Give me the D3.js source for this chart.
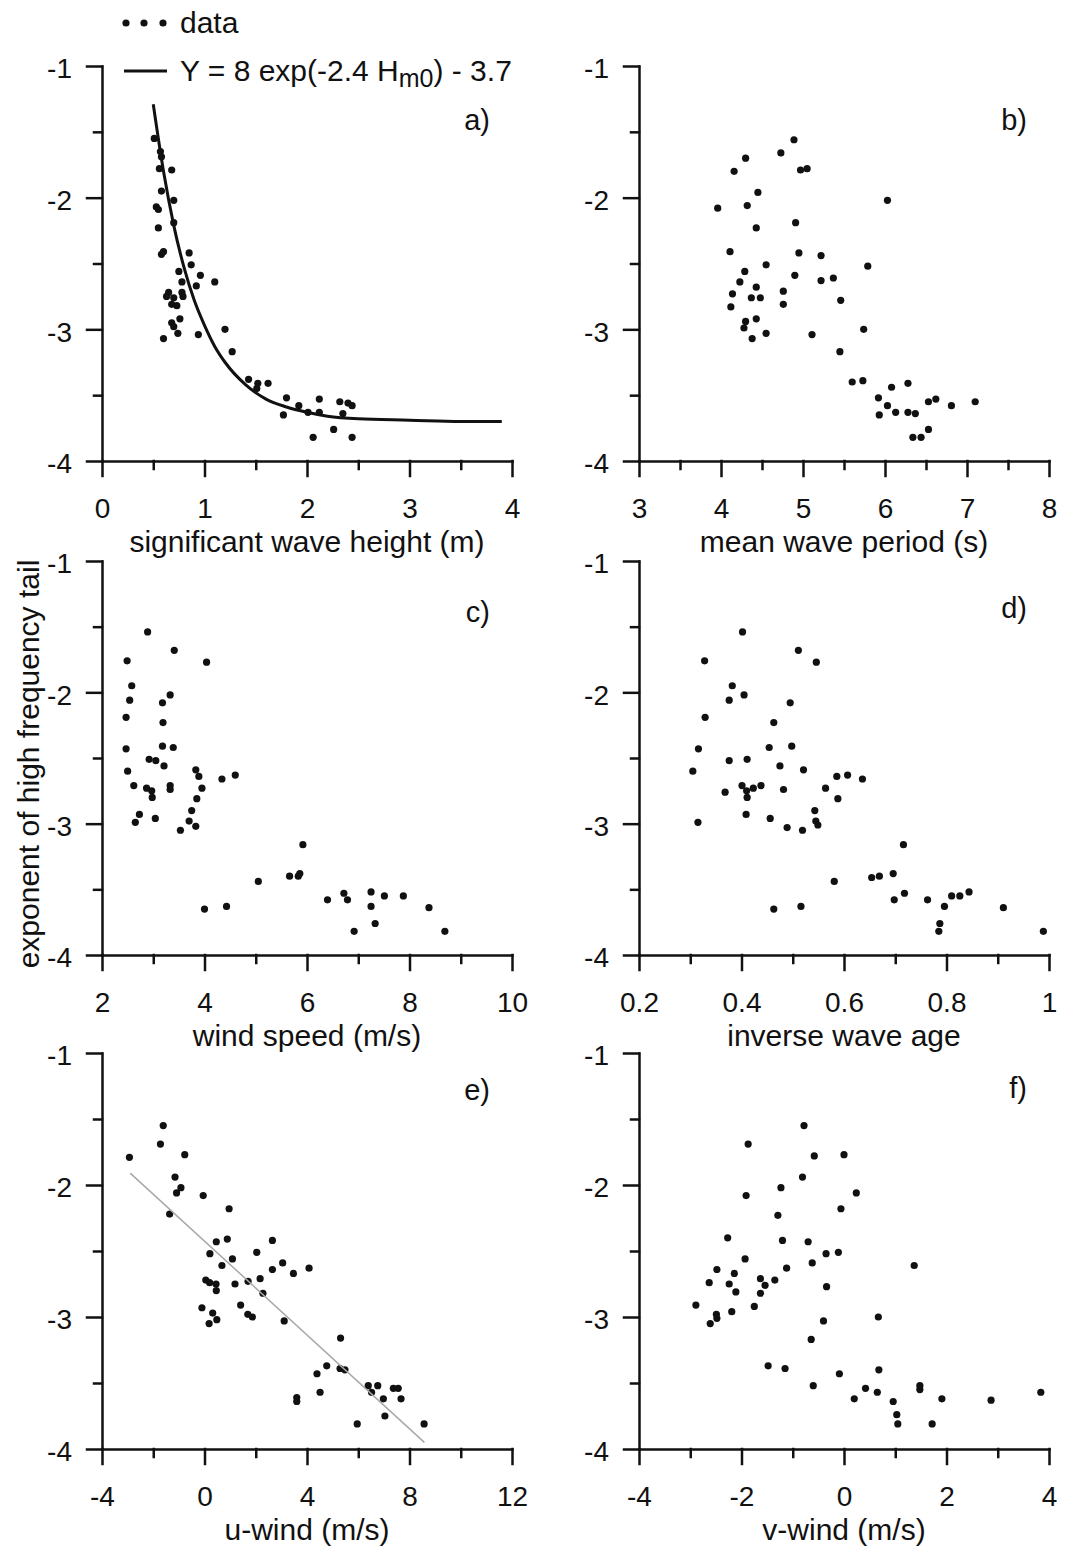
<!DOCTYPE html>
<html>
<head>
<meta charset="utf-8">
<script src="https://cdn.jsdelivr.net/npm/d3@7"></script>
<style>
body { margin: 0; background: #fff; }
svg text { font-family: 'Liberation Sans', Arial, sans-serif; fill: #111; }
.axis path, .axis line { stroke: #111; stroke-width: 2.5px; stroke-linecap: square; }
.axis text { font-size: 28px; fill: #111; }
.title { font-size: 30px; }
.tag { font-size: 29px; }
</style>
</head>
<body>
<svg id="chart" width="1080" height="1551"></svg>
<script>
'use strict';
const hm0 = [0.51,0.57,0.58,0.56,0.68,0.58,0.70,0.53,0.55,0.70,0.55,0.60,0.58,0.85,0.87,0.75,0.96,0.92,0.78,1.10,0.65,0.63,0.70,0.78,0.79,0.68,0.73,0.76,0.68,0.70,0.74,0.60,0.94,1.20,1.27,1.43,1.52,1.51,1.62,1.80,1.77,1.92,2.01,2.12,2.12,2.32,2.40,2.44,2.35,2.26,2.06,2.44];
const tailA = [-1.55,-1.65,-1.69,-1.78,-1.79,-1.95,-2.02,-2.07,-2.09,-2.19,-2.23,-2.41,-2.43,-2.42,-2.51,-2.56,-2.59,-2.67,-2.64,-2.64,-2.72,-2.75,-2.76,-2.72,-2.75,-2.81,-2.82,-2.92,-2.95,-2.98,-3.03,-3.07,-3.04,-3.00,-3.17,-3.38,-3.41,-3.45,-3.41,-3.52,-3.65,-3.58,-3.63,-3.53,-3.63,-3.55,-3.56,-3.58,-3.64,-3.76,-3.82,-3.82];

const period = [4.89,4.73,4.30,4.16,4.97,5.05,4.45,6.03,3.96,4.32,4.91,4.43,4.11,4.95,5.22,4.55,5.79,4.29,4.90,5.22,5.37,4.23,4.43,4.14,4.76,4.37,4.48,5.46,4.12,4.76,4.30,4.28,4.43,4.55,4.38,5.11,5.74,5.45,5.60,5.73,5.92,6.08,6.28,5.93,6.03,6.13,6.28,6.37,6.53,6.62,6.81,7.10,6.53,6.34,6.44];
const tailB = [-1.56,-1.66,-1.70,-1.80,-1.79,-1.78,-1.96,-2.02,-2.08,-2.06,-2.19,-2.23,-2.41,-2.42,-2.44,-2.51,-2.52,-2.56,-2.59,-2.63,-2.61,-2.64,-2.68,-2.73,-2.71,-2.76,-2.76,-2.78,-2.83,-2.81,-2.94,-2.99,-2.92,-3.03,-3.07,-3.04,-3.00,-3.17,-3.40,-3.39,-3.52,-3.44,-3.41,-3.65,-3.58,-3.63,-3.63,-3.64,-3.55,-3.53,-3.58,-3.55,-3.76,-3.82,-3.82];

const windSpeed = [2.89,3.41,2.49,4.04,2.58,3.33,2.54,3.18,2.47,3.19,3.18,3.39,2.47,2.92,3.05,3.21,3.83,2.50,3.89,4.34,4.60,2.62,2.87,3.33,2.97,2.98,3.33,3.95,3.85,3.75,2.73,2.65,3.04,3.70,3.83,3.53,5.92,5.66,5.83,5.86,5.05,4.00,4.43,6.40,6.72,6.79,7.25,7.51,7.88,7.25,8.38,7.33,6.92,8.69];
const tailC = [-1.54,-1.68,-1.76,-1.77,-1.95,-2.02,-2.06,-2.08,-2.19,-2.23,-2.41,-2.42,-2.43,-2.51,-2.52,-2.56,-2.59,-2.60,-2.64,-2.66,-2.63,-2.71,-2.73,-2.71,-2.75,-2.80,-2.74,-2.73,-2.81,-2.90,-2.93,-2.99,-2.96,-2.98,-3.02,-3.05,-3.16,-3.40,-3.40,-3.38,-3.44,-3.65,-3.63,-3.58,-3.53,-3.58,-3.52,-3.55,-3.55,-3.63,-3.64,-3.76,-3.82,-3.82];

const waveAge = [0.402,0.511,0.328,0.546,0.382,0.405,0.376,0.495,0.329,0.463,0.316,0.454,0.498,0.376,0.411,0.475,0.521,0.305,0.586,0.607,0.636,0.401,0.423,0.438,0.368,0.410,0.411,0.482,0.564,0.588,0.315,0.409,0.456,0.489,0.519,0.543,0.545,0.549,0.716,0.654,0.669,0.696,0.581,0.463,0.516,0.698,0.718,0.763,0.810,0.826,0.844,0.796,0.911,0.787,0.785,0.989];
const tailD = [-1.54,-1.68,-1.76,-1.77,-1.95,-2.02,-2.06,-2.08,-2.19,-2.23,-2.43,-2.42,-2.41,-2.52,-2.51,-2.56,-2.59,-2.60,-2.64,-2.63,-2.66,-2.71,-2.73,-2.71,-2.76,-2.75,-2.80,-2.74,-2.73,-2.81,-2.99,-2.93,-2.96,-3.03,-3.05,-2.90,-2.98,-3.01,-3.16,-3.41,-3.40,-3.38,-3.44,-3.65,-3.63,-3.58,-3.53,-3.58,-3.55,-3.55,-3.52,-3.63,-3.64,-3.76,-3.82,-3.82];

const uWind = [-1.61,-1.72,-2.93,-0.77,-1.15,-0.92,-1.09,-0.05,-1.36,0.96,0.46,0.89,2.65,0.21,2.04,1.09,0.68,3.05,2.65,3.47,4.08,0.05,0.20,0.45,1.19,1.70,2.17,0.46,2.28,-0.10,1.41,1.69,1.87,0.32,0.48,0.18,3.11,5.31,4.77,4.39,5.29,5.48,4.51,3.60,3.60,6.39,6.76,6.52,7.37,7.56,6.98,7.67,7.04,5.96,8.57];
const tailE = [-1.55,-1.69,-1.79,-1.77,-1.94,-2.02,-2.06,-2.08,-2.22,-2.18,-2.43,-2.41,-2.42,-2.52,-2.51,-2.56,-2.61,-2.59,-2.64,-2.67,-2.63,-2.72,-2.74,-2.75,-2.75,-2.73,-2.71,-2.80,-2.82,-2.93,-2.91,-2.98,-3.00,-2.97,-3.02,-3.05,-3.03,-3.16,-3.37,-3.43,-3.39,-3.40,-3.57,-3.61,-3.64,-3.52,-3.52,-3.57,-3.54,-3.54,-3.62,-3.62,-3.75,-3.81,-3.81];

const vWind = [-0.78,-1.87,-0.58,0.00,-0.81,-1.23,-1.91,0.24,-0.06,-1.29,-2.27,-1.20,-0.70,-1.93,-0.35,-0.11,-0.62,1.37,-2.48,-1.12,-2.14,-2.63,-2.24,-1.63,-1.35,-1.54,-0.34,-2.11,-1.63,-2.89,-2.61,-2.49,-2.48,-2.19,-1.75,-0.40,0.67,-0.64,-1.48,-1.15,-0.09,0.68,-0.60,0.42,0.65,1.48,1.48,0.20,0.96,1.91,2.87,3.84,1.03,1.05,1.72];
const tailF = [-1.55,-1.69,-1.78,-1.77,-1.94,-2.02,-2.08,-2.06,-2.18,-2.23,-2.40,-2.42,-2.43,-2.56,-2.52,-2.51,-2.59,-2.61,-2.64,-2.63,-2.67,-2.74,-2.75,-2.71,-2.72,-2.76,-2.77,-2.81,-2.82,-2.91,-3.05,-2.98,-3.01,-2.96,-2.92,-3.03,-3.00,-3.17,-3.37,-3.39,-3.43,-3.40,-3.52,-3.54,-3.57,-3.52,-3.55,-3.62,-3.64,-3.62,-3.63,-3.57,-3.74,-3.81,-3.81];

//Fitted curve in panel a).
const fitH = [0.5,0.6,0.7,0.8,0.9,1.0,1.1,1.2,1.4,1.6,1.8,2.0,2.2,2.5,3.0,3.5,3.9];
const fitY = [-1.29,-1.80,-2.21,-2.53,-2.78,-2.97,-3.13,-3.25,-3.42,-3.53,-3.59,-3.63,-3.66,-3.68,-3.69,-3.70,-3.70];
//Grey trend line in panel e), its two ends.
const trendU = [-2.9, 8.58];
const trendY = [-1.91, -3.95];

//Axis ticks.
const yMajor = [-1, -2, -3, -4];
const yMinor = [-1.5, -2.5, -3.5];
const ticksA = [0, 1, 2, 3, 4];
const ticksB = [3, 4, 5, 6, 7, 8];
const ticksC = [2, 4, 6, 8, 10];
const ticksD = [0.2, 0.4, 0.6, 0.8, 1];
const ticksE = [-4, 0, 4, 8, 12];
const ticksF = [-4, -2, 0, 2, 4];

const svg = d3.select('#chart');
//Pixel frame of each column and row.
const colX = [[102, 512], [639, 1049]];
const rowY = [[66, 461], [561, 955], [1053, 1449]];

const panels = [
	{xs: hm0, ys: tailA, ticks: ticksA, title: 'significant wave height (m)', tag: 'a)', col: 0, row: 0, tagY: 130},
	{xs: period, ys: tailB, ticks: ticksB, title: 'mean wave period (s)', tag: 'b)', col: 1, row: 0, tagY: 130},
	{xs: windSpeed, ys: tailC, ticks: ticksC, title: 'wind speed (m/s)', tag: 'c)', col: 0, row: 1, tagY: 622},
	{xs: waveAge, ys: tailD, ticks: ticksD, title: 'inverse wave age', tag: 'd)', col: 1, row: 1, tagY: 618},
	{xs: uWind, ys: tailE, ticks: ticksE, title: 'u-wind (m/s)', tag: 'e)', col: 0, row: 2, tagY: 1100},
	{xs: vWind, ys: tailF, ticks: ticksF, title: 'v-wind (m/s)', tag: 'f)', col: 1, row: 2, tagY: 1098}
];

//Minor ticks sit half way between the labelled ones.
function halves(t) {
	return t.slice(1).map((d, i) => (d + t[i]) / 2);
}

const scales = [];
panels.forEach(p => {
	const g = svg.append('g');
	const x = d3.scaleLinear()
		.domain([p.ticks[0], p.ticks[p.ticks.length - 1]])
		.range(colX[p.col]);
	const y = d3.scaleLinear()
		.domain([-4, -1])
		.range([rowY[p.row][1], rowY[p.row][0]]);
	scales.push({x: x, y: y, g: g});

	//Minor ticks first, without domain lines.
	g.append('g')
		.attr('class', 'axis')
		.attr('transform', `translate(0,${y(-4)})`)
		.call(d3.axisBottom(x).tickValues(halves(p.ticks)).tickSize(8).tickFormat(''))
		.call(s => s.select('.domain').remove());
	g.append('g')
		.attr('class', 'axis')
		.attr('transform', `translate(${x.range()[0]},0)`)
		.call(d3.axisLeft(y).tickValues(yMinor).tickSize(8).tickFormat(''))
		.call(s => s.select('.domain').remove());

	//Labelled axes.
	g.append('g')
		.attr('class', 'axis')
		.attr('transform', `translate(0,${y(-4)})`)
		.call(d3.axisBottom(x).tickValues(p.ticks).tickSize(15).tickSizeOuter(0)
			.tickPadding(22).tickFormat(d => String(d)));
	g.append('g')
		.attr('class', 'axis')
		.attr('transform', `translate(${x.range()[0]},0)`)
		.call(d3.axisLeft(y).tickValues(yMajor).tickSize(15).tickSizeOuter(0)
			.tickPadding(15).tickFormat(d => String(d)))
		.selectAll('text').attr('dy', '0.42em');

	//Axis title and panel letter.
	g.append('text')
		.attr('class', 'title')
		.attr('x', (x.range()[0] + x.range()[1]) / 2)
		.attr('y', y(-4) + 91)
		.attr('text-anchor', 'middle')
		.text(p.title);
	g.append('text')
		.attr('class', 'tag')
		.attr('x', x.range()[1] - 22)
		.attr('y', p.tagY)
		.attr('text-anchor', 'end')
		.text(p.tag);

	//Points.
	g.selectAll('circle')
		.data(d3.zip(p.xs, p.ys))
		.join('circle')
		.attr('cx', d => x(d[0]))
		.attr('cy', d => y(d[1]))
		.attr('r', 3.6)
		.style('fill', '#111');
});

//Fitted curve, panel a).
const sa = scales[0];
sa.g.append('path')
	.datum(d3.zip(fitH, fitY))
	.attr('d', d3.line().x(d => sa.x(d[0])).y(d => sa.y(d[1])).curve(d3.curveMonotoneX))
	.style('fill', 'none')
	.style('stroke', '#111')
	.style('stroke-width', '3px');

//Trend line, panel e).
const se = scales[4];
se.g.append('line')
	.attr('x1', se.x(trendU[0]))
	.attr('y1', se.y(trendY[0]))
	.attr('x2', se.x(trendU[1]))
	.attr('y2', se.y(trendY[1]))
	.style('stroke', '#a8a8a8')
	.style('stroke-width', '1.5px');

//Legend above panel a).
const leg = svg.append('g');
[126, 144, 163].forEach(cx => {
	leg.append('circle').attr('cx', cx).attr('cy', 23).attr('r', 3.6).style('fill', '#111');
});
leg.append('text')
	.attr('class', 'title')
	.attr('x', 180)
	.attr('y', 33)
	.text('data');
leg.append('line')
	.attr('x1', 124).attr('x2', 167)
	.attr('y1', 71).attr('y2', 71)
	.style('stroke', '#111')
	.style('stroke-width', '3px');
const formula = leg.append('text')
	.attr('class', 'title')
	.attr('x', 180)
	.attr('y', 81);
formula.append('tspan').text('Y = 8 exp(-2.4 H');
formula.append('tspan').attr('dy', 6).style('font-size', '25px').text('m0');
formula.append('tspan').attr('dy', -6).text(') - 3.7');

//Shared y title.
svg.append('text')
	.attr('class', 'title')
	.attr('transform', 'translate(39,764) rotate(-90)')
	.attr('text-anchor', 'middle')
	.text('exponent of high frequency tail');
</script>
</body>
</html>
